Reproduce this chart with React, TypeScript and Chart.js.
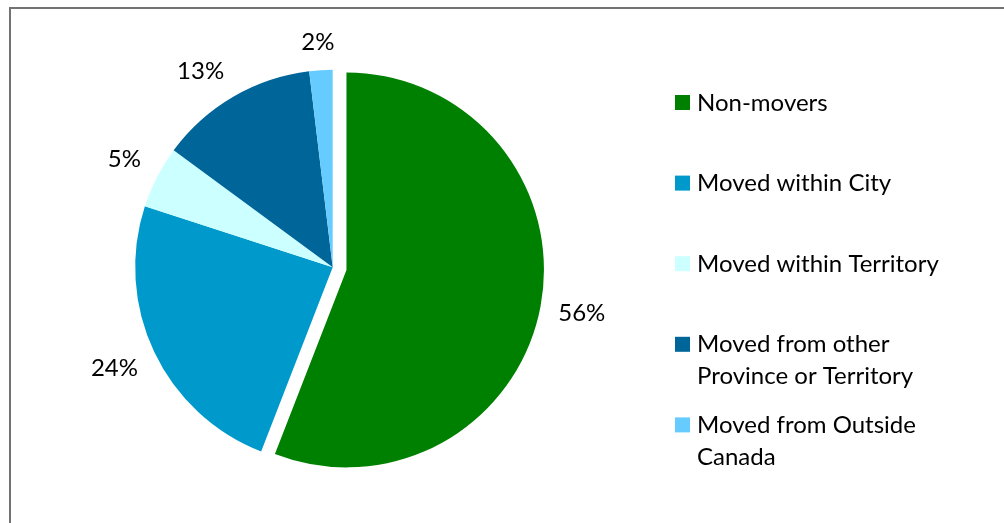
import { useEffect, useRef } from "react";
import { Chart, registerables } from "chart.js";

Chart.register(...registerables);

const categories = [
  "Non-movers",
  "Moved within City",
  "Moved within Territory",
  "Moved from other Province or Territory",
  "Moved from Outside Canada",
];
const legendLines = [
  ["Non-movers"],
  ["Moved within City"],
  ["Moved within Territory"],
  ["Moved from other", "Province or Territory"],
  ["Moved from Outside", "Canada"],
];
const shares = [55.9, 24.1, 5.1, 13.0, 1.9];
const percentLabels = ["56%", "24%", "5%", "13%", "2%"];
const sliceColors = ["#008000", "#0099CC", "#CCFFFF", "#006699", "#66CCFF"];

const FONT = "24px Lato, 'Noto Sans', sans-serif";

// Chart.js 4 enlarges an exploded arc's radius by offset/4 and trims its
// angle; undo that so the exploded slice keeps the same radius as the rest.
const explodeFix = {
  id: "explodeFix",
  afterUpdate(chart: any) {
    const meta = chart.getDatasetMeta(0);
    meta.data.forEach((arc: any) => {
      const t = (arc.options.offset || 0) / 4;
      arc.$visR = arc.outerRadius;
      arc.$shift = t;
      if (!t) return;
      const fix = 1 - Math.sin(Math.min(Math.PI, arc.circumference || 0));
      const ro = t * fix;
      if (ro > 0) {
        const R = arc.outerRadius;
        const ang = (ro / Math.PI) / (2 * R);
        arc.outerRadius = R - ro;
        arc.startAngle -= ang;
        arc.endAngle += ang;
      }
    });
  },
};

const labelPlugin = {
  id: "outsideLabels",
  afterDatasetsDraw(chart: any) {
    const ctx = chart.ctx;
    const meta = chart.getDatasetMeta(0);
    ctx.save();
    ctx.font = FONT;
    ctx.fillStyle = "#000000";
    ctx.textAlign = "center";
    ctx.textBaseline = "middle";
    meta.data.forEach((arc: any, i: number) => {
      const mid = (arc.startAngle + arc.endAngle) / 2;
      const dx = Math.cos(mid);
      const dy = Math.sin(mid);
      const cx = arc.x + dx * arc.$shift;
      const cy = arc.y + dy * arc.$shift;
      const text = percentLabels[i];
      const w = ctx.measureText(text).width;
      const h = 20;
      const d = arc.$visR + 18;
      const ax = cx + dx * d;
      const ay = cy + dy * d;
      const kx = Math.max(-1, Math.min(1, dx * 2));
      const ky = Math.max(-1, Math.min(1, dy * 2));
      ctx.fillText(text, ax + kx * w / 2, ay + ky * h / 2);
    });
    ctx.restore();
  },
};

const legendPlugin = {
  id: "sideLegend",
  afterDraw(chart: any) {
    const ctx = chart.ctx;
    ctx.save();
    ctx.font = FONT;
    ctx.textBaseline = "alphabetic";
    ctx.textAlign = "left";
    const boxX = 675;
    const box = 15;
    const textX = 697;
    const firstY = 102.5;
    const step = 80.6;
    const lineH = 32;
    legendLines.forEach((lines, i) => {
      const yc = firstY + i * step;
      ctx.fillStyle = sliceColors[i];
      ctx.fillRect(boxX, yc - box / 2, box, box);
      ctx.fillStyle = "#000000";
      lines.forEach((ln, j) => ctx.fillText(ln, textX, yc + 8 + j * lineH));
    });
    ctx.restore();
  },
};

export default function App() {
  const ref = useRef<HTMLCanvasElement>(null);
  useEffect(() => {
    if (!ref.current) return;
    const chart = new Chart(ref.current, {
      type: "pie",
      data: {
        labels: categories,
        datasets: [
          {
            data: shares,
            backgroundColor: sliceColors,
            borderWidth: 0,
            offset: [56, 0, 0, 0, 0],
            radius: 197.5,
          } as any,
        ],
      },
      options: {
        responsive: false,
        animation: false,
        events: [],
        layout: { padding: { left: 0, right: 338.6, top: 11.6, bottom: 0 } },
        plugins: {
          legend: { display: false },
          tooltip: { enabled: false },
        },
      },
      plugins: [explodeFix, labelPlugin, legendPlugin],
    });
    return () => chart.destroy();
  }, []);
  return (
    <div
      style={{
        position: "fixed",
        left: 0,
        top: 0,
        width: 1004,
        height: 523,
        overflow: "hidden",
        background: "#ffffff",
      }}
    >
      <div
        style={{
          position: "absolute",
          left: 9,
          top: 7,
          width: 1200,
          height: 800,
          borderLeft: "2px solid #737373",
          borderTop: "2px solid #737373",
        }}
      />
      <canvas
        ref={ref}
        width={1004}
        height={523}
        style={{ position: "absolute", left: 0, top: 0 }}
      />
    </div>
  );
}
